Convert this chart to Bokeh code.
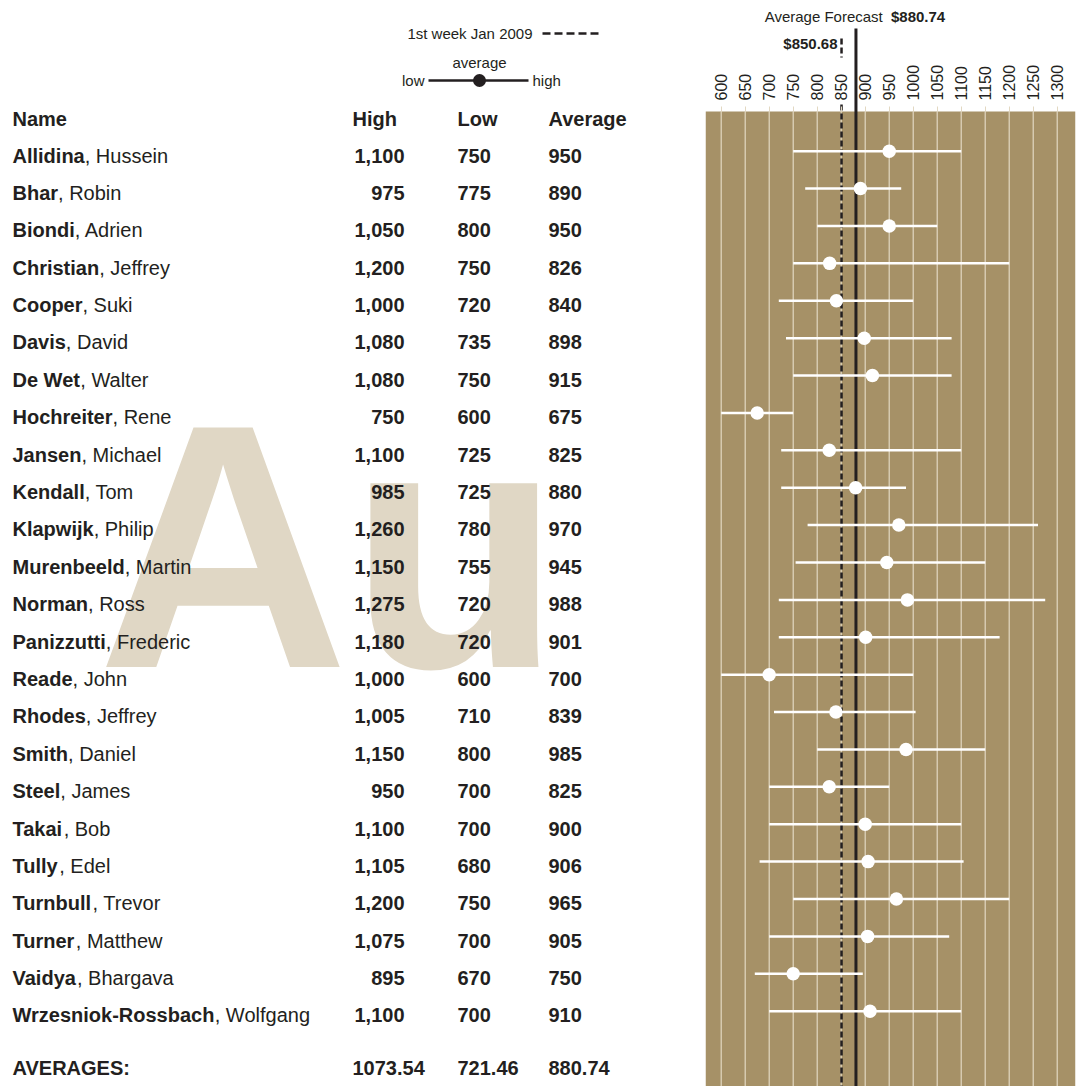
from bokeh.plotting import figure
from bokeh.layouts import row
from bokeh.models import Range1d, LinearAxis, FixedTicker, BoxAnnotation
from bokeh.core.properties import value
from bokeh.embed import file_html
from bokeh.resources import INLINE

# ---------------- data ----------------
last_names = ["Allidina", "Bhar", "Biondi", "Christian", "Cooper", "Davis", "De Wet",
              "Hochreiter", "Jansen", "Kendall", "Klapwijk", "Murenbeeld", "Norman",
              "Panizzutti", "Reade", "Rhodes", "Smith", "Steel", "Takai", "Tully",
              "Turnbull", "Turner", "Vaidya", "Wrzesniok-Rossbach"]
first_names = ["Hussein", "Robin", "Adrien", "Jeffrey", "Suki", "David", "Walter",
               "Rene", "Michael", "Tom", "Philip", "Martin", "Ross", "Frederic", "John",
               "Jeffrey", "Daniel", "James", "Bob", "Edel", "Trevor", "Matthew",
               "Bhargava", "Wolfgang"]
high = [1100, 975, 1050, 1200, 1000, 1080, 1080, 750, 1100, 985, 1260, 1150, 1275,
        1180, 1000, 1005, 1150, 950, 1100, 1105, 1200, 1075, 895, 1100]
low = [750, 775, 800, 750, 720, 735, 750, 600, 725, 725, 780, 755, 720, 720, 600,
       710, 800, 700, 700, 680, 750, 700, 670, 700]
average = [950, 890, 950, 826, 840, 898, 915, 675, 825, 880, 970, 945, 988, 901, 700,
           839, 985, 825, 900, 906, 965, 905, 750, 910]
avg_high = 1073.54
avg_low = 721.46
avg_forecast = 880.74
jan_2009 = 850.68
tick_values = [600, 650, 700, 750, 800, 850, 900, 950, 1000, 1050, 1100, 1150, 1200, 1250, 1300]

# ---------------- style ----------------
FONT = value("Liberation Sans")
INK = "#231f20"
TAN = "#a69167"
GRID = "#e2d8c2"
WATER = "#e0d7c5"
FS = "20px"

# Arial/Liberation Sans Bold advance widths (per 1000 em)
BW = {" ": 278, ",": 278, "-": 333, "A": 722, "B": 722, "C": 722, "D": 722, "H": 722,
      "J": 556, "K": 722, "M": 833, "N": 722, "P": 667, "R": 722, "S": 667, "T": 611,
      "V": 667, "W": 944, "a": 556, "b": 611, "c": 556, "d": 611, "e": 556, "g": 611,
      "h": 611, "i": 278, "j": 278, "k": 556, "l": 278, "m": 889, "n": 611, "o": 611,
      "p": 611, "r": 389, "s": 556, "t": 333, "u": 611, "v": 556, "w": 778, "y": 556,
      "z": 500}


def bold_width(s, size):
    return sum(BW.get(c, 600) for c in s) / 1000.0 * size


n = len(last_names)
ROW0_L, ROW_H = 155.0, 37.39
row_y_left = [ROW0_L + i * ROW_H for i in range(n)]

# ---------------- left table ----------------
left = figure(width=700, height=1086, x_range=Range1d(0, 700), y_range=Range1d(1086, 0),
              output_backend="svg", toolbar_location=None, min_border=0,
              x_axis_location=None, y_axis_location=None)
left.grid.visible = False
left.outline_line_color = None
left.background_fill_color = "white"
left.border_fill_color = "white"

# watermark
left.text(x=[97], y=[546], text=["Au"], text_font=FONT, text_font_style="bold",
          text_font_size="348px", text_color=WATER, text_baseline="alphabetic",
          text_align="left")

# legend
left.text(x=[532], y=[33], text=["1st week Jan 2009"], text_font=FONT,
          text_font_size="15px", text_color=INK, text_align="right", text_baseline="middle")
left.segment(x0=[542], y0=[33], x1=[598], y1=[33], line_color=INK, line_width=2.5,
             line_dash="8 4")
left.text(x=[479], y=[62], text=["average"], text_font=FONT, text_font_size="15px",
          text_color=INK, text_align="center", text_baseline="middle")
left.text(x=[424], y=[80], text=["low"], text_font=FONT, text_font_size="15px",
          text_color=INK, text_align="right", text_baseline="middle")
left.text(x=[532], y=[80], text=["high"], text_font=FONT, text_font_size="15px",
          text_color=INK, text_align="left", text_baseline="middle")
left.segment(x0=[428], y0=[80], x1=[528], y1=[80], line_color=INK, line_width=2.5)
left.scatter(x=[479], y=[80], size=13, fill_color=INK, line_color=None)

# headers
hdr_y = 118
for x, t in [(12, "Name"), (352, "High"), (457, "Low"), (548, "Average")]:
    left.text(x=[x], y=[hdr_y], text=[t], text_font=FONT, text_font_style="bold",
              text_font_size=FS, text_color=INK, text_baseline="middle")

size_px = 20.0
first_x = [12 + bold_width(s, size_px) for s in last_names]
left.text(x=[12] * n, y=row_y_left, text=last_names, text_font=FONT,
          text_font_style="bold", text_font_size=FS, text_color=INK, text_baseline="middle")
left.text(x=first_x, y=row_y_left, text=[", " + f for f in first_names], text_font=FONT,
          text_font_size=FS, text_color=INK, text_baseline="middle")
left.text(x=[404] * n, y=row_y_left, text=[f"{v:,}" for v in high], text_font=FONT,
          text_font_style="bold", text_font_size=FS, text_color=INK,
          text_baseline="middle", text_align="right")
left.text(x=[457] * n, y=row_y_left, text=[str(v) for v in low], text_font=FONT,
          text_font_style="bold", text_font_size=FS, text_color=INK, text_baseline="middle")
left.text(x=[548] * n, y=row_y_left, text=[str(v) for v in average], text_font=FONT,
          text_font_style="bold", text_font_size=FS, text_color=INK, text_baseline="middle")

avg_y = 1067
for x, t in [(12, "AVERAGES:"), (352, f"{avg_high:.2f}"), (457, f"{avg_low:.2f}"),
             (548, f"{avg_forecast:.2f}")]:
    left.text(x=[x], y=[avg_y], text=[t], text_font=FONT, text_font_style="bold",
              text_font_size=FS, text_color=INK, text_baseline="middle")

# ---------------- right dot plot ----------------
TAN_TOP = 111
BOTTOM = 1086
ROW0_R = 150.7
row_y_right = [ROW0_R + i * ROW_H for i in range(n)]

right = figure(width=388, height=1086, x_range=Range1d(567.3, 1338.1),
               y_range=Range1d(BOTTOM, 0), output_backend="svg", toolbar_location=None,
               min_border_left=5, min_border_right=13, min_border_top=0,
               min_border_bottom=0, x_axis_location=None, y_axis_location=None)
right.grid.visible = False
right.outline_line_color = None
right.background_fill_color = "white"
right.border_fill_color = "white"

right.add_layout(BoxAnnotation(top=TAN_TOP, bottom=BOTTOM, fill_color=TAN, fill_alpha=1,
                               line_color=None, level="underlay"))
right.segment(x0=tick_values, y0=[TAN_TOP] * len(tick_values), x1=tick_values,
              y1=[BOTTOM] * len(tick_values), line_color=GRID, line_width=1.2)

xa = LinearAxis(ticker=FixedTicker(ticks=tick_values), fixed_location=TAN_TOP,
                major_label_orientation="vertical", axis_line_color=None,
                major_tick_line_color=GRID, major_tick_out=5, major_tick_in=0,
                minor_tick_line_color=None, major_label_standoff=6,
                major_label_text_font="Liberation Sans",
                major_label_text_font_size="16px", major_label_text_color=INK)
right.add_layout(xa, "above")

# reference lines
right.segment(x0=[jan_2009, jan_2009], y0=[38, 104], x1=[jan_2009, jan_2009],
              y1=[57, BOTTOM], line_color=INK, line_width=2.5, line_dash="6 3")
right.segment(x0=[avg_forecast], y0=[28], x1=[avg_forecast], y1=[BOTTOM],
              line_color=INK, line_width=3)

# ranges and averages
right.segment(x0=low, y0=row_y_right, x1=high, y1=row_y_right, line_color="white",
              line_width=2.5)
right.scatter(x=average, y=row_y_right, size=13.5, fill_color="white", line_color=None)

# annotations
right.text(x=[avg_forecast], y=[16], text=["Average Forecast "], text_font=FONT,
           text_font_size="15px", text_color=INK, text_align="right",
           text_baseline="middle", x_offset=31)
right.text(x=[avg_forecast], y=[16], text=[f"${avg_forecast:.2f}"], text_font=FONT,
           text_font_style="bold", text_font_size="15px", text_color=INK,
           text_align="left", text_baseline="middle", x_offset=35)
right.text(x=[jan_2009], y=[43], text=[f"${jan_2009:.2f}"], text_font=FONT,
           text_font_style="bold", text_font_size="15px", text_color=INK,
           text_align="right", text_baseline="middle", x_offset=-4)

layout = row(left, right)
open("out.html", "w").write(file_html(layout, INLINE))
